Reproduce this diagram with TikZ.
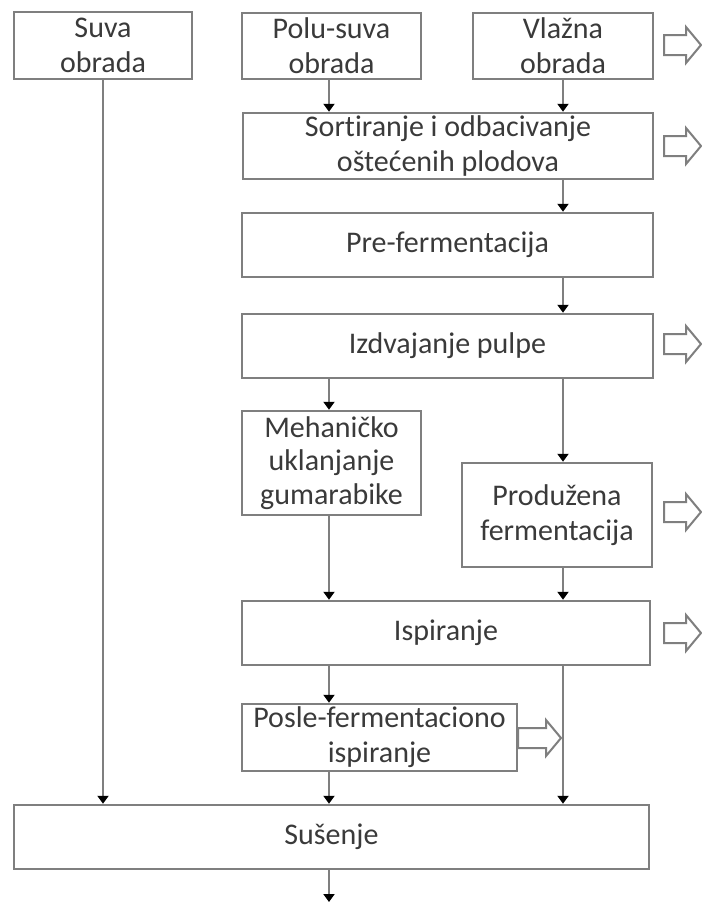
\documentclass[tikz,border=0pt]{standalone}
\usepackage{fontspec}
\setmainfont{Carlito}[Ligatures=NoCommon]
\usetikzlibrary{arrows.meta}

\definecolor{linegray}{HTML}{7F7F7F}
\definecolor{textgray}{HTML}{3A3A3A}

\tikzset{
  stage/.style={draw=linegray,line width=2.5pt,inner sep=0pt,align=center,
    text=textgray,font=\fontsize{30}{35}\selectfont},
  flow/.style={draw=linegray,line width=2.2pt,
    -{Triangle[length=8pt,width=11pt,color=black]}},
  outflow/.style={draw=linegray,line width=2pt,fill=white,line join=miter}
}

% hollow arrow: start x, centre y, length
\newcommand{\outarrow}[3]{%
  \draw[outflow] (#1,#2-10) -- ++(#3-15,0) -- ++(0,-8) -- (#1+#3,#2)
    -- (#1+#3-15,#2+18) -- ++(0,-8) -- (#1,#2+10) -- cycle;}

\begin{document}
\begin{tikzpicture}[x=1pt,y=-1pt]
  \useasboundingbox (0,0) rectangle (702,903);

  \node[stage,minimum width=178pt,minimum height=67pt] (suva) at (103,45.5) {Suva\\obrada};
  \node[stage,minimum width=179pt,minimum height=66pt] (polu) at (331.5,46) {Polu-suva\\obrada};
  \node[stage,minimum width=180pt,minimum height=66pt] (vlazna) at (563,46) {Vlažna\\obrada};
  \node[stage,minimum width=410pt,minimum height=66pt] (sort) at (448,146) {Sortiranje i odbacivanje\\oštećenih plodova};
  \node[stage,minimum width=411pt,minimum height=64pt] (pre) at (447.5,245) {Pre-fermentacija};
  \node[stage,minimum width=411pt,minimum height=64pt] (izdv) at (447.5,346) {Izdvajanje pulpe};
  \node[stage,minimum width=179pt,minimum height=104pt,font=\fontsize{30}{33.5}\selectfont] (meh) at (331.5,463) {Mehaničko\\uklanjanje\\gumarabike};
  \node[stage,minimum width=190pt,minimum height=104pt] (prod) at (557,515) {Produžena\\fermentacija};
  \node[stage,minimum width=408pt,minimum height=64pt] (isp) at (446,633) {Ispiranje};
  \node[stage,minimum width=275pt,minimum height=67pt] (posle) at (379.5,737.5) {Posle-fermentaciono\\ispiranje};
  \node[stage,minimum width=635pt,minimum height=64pt] (suse) at (331.5,837) {Sušenje};

  \coordinate (colL) at (329,0);
  \coordinate (colR) at (563,0);
  \coordinate (out) at (329,902);

  \draw[flow] (suva.south) -- (suva.south |- suse.north);
  \draw[flow] (colL |- polu.south) -- (colL |- sort.north);
  \draw[flow] (colR |- vlazna.south) -- (colR |- sort.north);
  \draw[flow] (colR |- sort.south) -- (colR |- pre.north);
  \draw[flow] (colR |- pre.south) -- (colR |- izdv.north);
  \draw[flow] (colL |- izdv.south) -- (colL |- meh.north);
  \draw[flow] (colR |- izdv.south) -- (colR |- prod.north);
  \draw[flow] (colL |- meh.south) -- (colL |- isp.north);
  \draw[flow] (colR |- prod.south) -- (colR |- isp.north);
  \draw[flow] (colL |- isp.south) -- (colL |- posle.north);
  \draw[flow] (colL |- posle.south) -- (colL |- suse.north);
  \draw[flow] (colR |- isp.south) -- (colR |- suse.north);
  \draw[flow] (colL |- suse.south) -- (out);

  \outarrow{664}{45}{37}
  \outarrow{664}{146}{37}
  \outarrow{664}{344}{37}
  \outarrow{664}{512}{37}
  \outarrow{664}{633}{37}
  \outarrow{518}{738}{43}
\end{tikzpicture}
\end{document}
